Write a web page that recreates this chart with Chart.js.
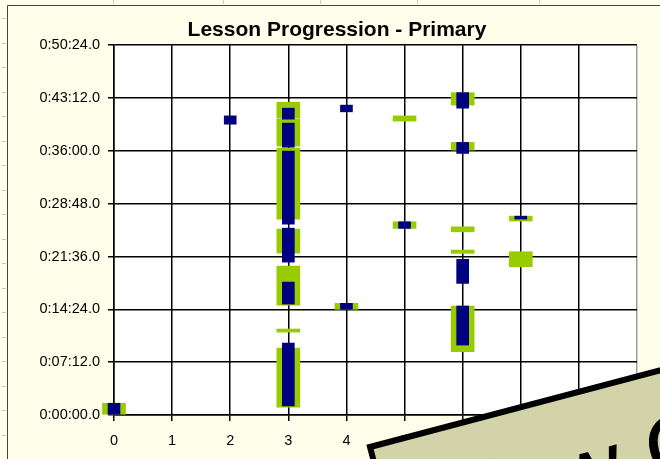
<!DOCTYPE html>
<html>
<head>
<meta charset="utf-8">
<script src="https://cdn.jsdelivr.net/npm/chart.js@4.4.1/dist/chart.umd.min.js"></script>
<style>
  html, body { margin: 0; padding: 0; background: #fffeeb; }
  #wrap { width: 660px; height: 459px; position: relative; }
</style>
</head>
<body>
<div id="wrap"><canvas id="progressChart"></canvas></div>
<script>
// lesson slots along the bottom, times in seconds from the start
const lessonSlots = [0, 1, 2, 3, 4, 5, 6, 7, 8, 9];
const timeTicks = [0, 432, 864, 1296, 1728, 2160, 2592, 3024];

// green segments (wide)
const greenSlot  = [0, 3, 3, 3, 3, 3, 3, 3, 4, 5, 5, 6, 6, 6, 6, 6, 7, 7];
const greenStart = [0, 2427, 2199, 1602, 1324, 899, 678, 65, 864, 2403, 1526, 2534, 2166, 1498, 1322, 517, 1586, 1212];
const greenEnd   = [96, 2558, 2419, 2182, 1520, 1218, 703, 548, 913, 2446, 1580, 2636, 2229, 1539, 1349, 891, 1626, 1335];

// navy segments (narrow)
const navySlot  = [0, 2, 3, 3, 3, 3, 3, 3, 4, 4, 5, 6, 6, 6, 6, 7];
const navyStart = [0, 2378, 2419, 2190, 1561, 1250, 907, 74, 2479, 864, 1526, 2509, 2139, 1076, 572, 1602];
const navyEnd   = [96, 2446, 2509, 2387, 2158, 1528, 1087, 588, 2534, 913, 1580, 2636, 2229, 1273, 891, 1626];

const FONT = '"Liberation Sans", Arial, sans-serif';

function fmtTime(sec) {
  const h = Math.floor(sec / 3600);
  const m = Math.floor((sec % 3600) / 60);
  const s = sec % 60;
  return h + ":" + String(m).padStart(2, "0") + ":" + String(s).padStart(2, "0") + ".0";
}

function toBars(slots, starts, ends) {
  return slots.map((x, i) => ({ x: x, y: [starts[i], ends[i]] }));
}

// cream sheet, frame lines and white plot area
const backdrop = {
  id: "backdrop",
  beforeDraw(chart) {
    const { ctx, chartArea } = chart;
    ctx.save();
    ctx.fillStyle = "#fffeeb";
    ctx.fillRect(0, 0, chart.width, chart.height);
    // faint sheet marks outside the frame
    ctx.strokeStyle = "#c8c8c0";
    ctx.lineWidth = 1;
    ctx.beginPath();
    for (let y = 18; y < chart.height; y += 24.5) {
      ctx.moveTo(2, Math.round(y) + 0.5);
      ctx.lineTo(6, Math.round(y) + 0.5);
    }
    [113, 223, 320, 417, 539].forEach((x) => {
      ctx.moveTo(x + 0.5, 0);
      ctx.lineTo(x + 0.5, 4);
    });
    ctx.stroke();
    ctx.strokeStyle = "#444";
    ctx.beginPath();
    ctx.moveTo(7.5, chart.height);
    ctx.lineTo(7.5, 5.5);
    ctx.lineTo(chart.width, 5.5);
    ctx.stroke();
    ctx.fillStyle = "#ffffff";
    ctx.fillRect(chartArea.left, chartArea.top, chartArea.right - chartArea.left, chartArea.bottom - chartArea.top);
    ctx.restore();
  },
};

// the tilted note lying over the corner
const note = {
  id: "note",
  afterDraw(chart) {
    const ctx = chart.ctx;
    ctx.save();
    ctx.translate(370, 447);
    ctx.rotate((-14.8 * Math.PI) / 180);
    ctx.fillStyle = "#d3d3aa";
    ctx.fillRect(0, 0, 420, 200);
    ctx.lineWidth = 6;
    ctx.strokeStyle = "#000";
    ctx.strokeRect(0, 0, 420, 200);
    ctx.fillStyle = "#000";
    ctx.font = "94px " + FONT;
    ctx.textAlign = "left";
    ctx.textBaseline = "alphabetic";
    const lead = ctx.measureText("Be").width;
    ctx.fillText("Below Objective", 98 - lead, 110);
    ctx.restore();
  },
};

new Chart(document.getElementById("progressChart"), {
  type: "bar",
  data: {
    datasets: [
      {
        label: "navy",
        data: toBars(navySlot, navyStart, navyEnd),
        backgroundColor: "#000080",
        barThickness: 12,
        grouped: false,
        clip: false,
        order: 0,
      },
      {
        label: "green",
        data: toBars(greenSlot, greenStart, greenEnd),
        backgroundColor: "#99cc00",
        barThickness: 23,
        grouped: false,
        clip: false,
        order: 1,
      },
    ],
  },
  options: {
    responsive: true,
    maintainAspectRatio: false,
    animation: false,
    layout: { padding: { left: 37, right: 23, top: 0, bottom: 0 } },
    plugins: {
      legend: { display: false },
      tooltip: { enabled: false },
      title: {
        display: true,
        text: "Lesson Progression - Primary",
        color: "#000",
        font: { family: FONT, size: 21, weight: "bold", lineHeight: 1.2 },
        padding: { top: 18, bottom: 2 },
      },
    },
    scales: {
      x: {
        type: "linear",
        offset: false,
        min: lessonSlots[0],
        max: lessonSlots[lessonSlots.length - 1],
        afterBuildTicks: (scale) => {
          scale.ticks = lessonSlots.map((v) => ({ value: v }));
        },
        afterFit: (scale) => {
          scale.height = 44;
        },
        grid: {
          offset: false,
          color: (c) => (c.tick && c.tick.value === 9 ? "#a0a0a0" : "#000"),
          lineWidth: 1.5,
          tickLength: 6,
        },
        border: { color: "#000", width: 1.5 },
        ticks: { color: "#000", font: { family: FONT, size: 14.5 }, padding: 11 },
      },
      y: {
        min: timeTicks[0],
        max: timeTicks[timeTicks.length - 1],
        afterBuildTicks: (scale) => {
          scale.ticks = timeTicks.map((v) => ({ value: v }));
        },
        afterFit: (scale) => {
          scale.width = 77;
        },
        grid: { color: "#000", lineWidth: 1.5, tickLength: 6 },
        border: { color: "#000", width: 1.5 },
        ticks: {
          color: "#000",
          font: { family: FONT, size: 14.5 },
          padding: 8,
          callback: (v) => fmtTime(v),
        },
      },
    },
  },
  plugins: [backdrop, note],
});
</script>
</body>
</html>
